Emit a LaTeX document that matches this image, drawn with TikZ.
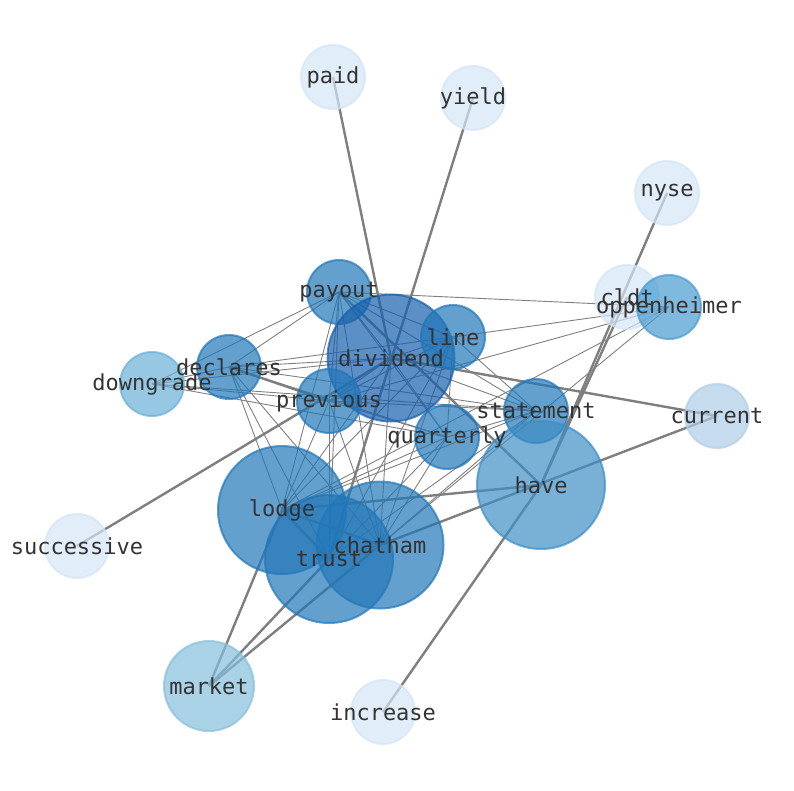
\documentclass[tikz,border=0pt]{standalone}
\usepackage{fontspec}
\setmonofont{DejaVu Sans Mono}
\usetikzlibrary{positioning}

\definecolor{blueA}{HTML}{D4E5F5}
\definecolor{blueB}{HTML}{AECDE7}
\definecolor{blueC}{HTML}{86BFDB}
\definecolor{blueD}{HTML}{69B0D9}
\definecolor{blueE}{HTML}{499BD0}
\definecolor{blueF}{HTML}{3E8EC5}
\definecolor{blueG}{HTML}{2277B8}
\definecolor{blueH}{HTML}{155FAC}
\definecolor{tiegray}{HTML}{7F7F7F}
\definecolor{txtgray}{HTML}{333333}

\pgfdeclarelayer{edges}
\pgfsetlayers{edges,main}

\begin{document}
\begin{tikzpicture}[x=1pt,y=-1pt,
  word/.style={circle,draw=#1,fill=#1,opacity=0.7,line width=2pt,inner sep=0pt},
  wordlabel/.style={font=\ttfamily\fontsize{22}{24}\selectfont,text=txtgray,inner sep=0pt},
  tie/.style={draw=tiegray,line width=0.9pt},
  strongtie/.style={draw=tiegray,line width=2.4pt}]
  \useasboundingbox (0,0) rectangle (794,790);

  \foreach \name/\x/\y/\d/\col in {
      paid/333/77/64/blueA, yield/473/98/64/blueA, nyse/667/193/64/blueA,
      cldt/627/297/64/blueA, oppenheimer/669/307/64/blueE, current/717/416/64/blueB,
      payout/339/292/64/blueG, dividend/391/358/127/blueH, line/453/337/64/blueG,
      declares/229/367/64/blueG, downgrade/152/384/64/blueD, previous/329/401/64/blueG,
      statement/536/411/64/blueG, quarterly/447/437/64/blueG, have/541/485/128/blueF,
      lodge/282/510/128/blueG, chatham/380/545/127/blueG, trust/329/559/128/blueG,
      successive/77/546/64/blueA, market/209/686/90/blueC, increase/383/712/64/blueA}
    \node[word=\col,minimum size=\d pt] (\name) at (\x,\y) {};

  \begin{pgfonlayer}{edges}
    \foreach \a/\b in {paid/dividend, yield/trust, nyse/have, cldt/have,
        current/dividend, current/chatham, increase/have, successive/dividend,
        market/lodge, market/trust, market/chatham, payout/have, lodge/have,
        lodge/trust, lodge/chatham, declares/previous}
      \draw[strongtie] (\a.center) -- (\b.center);
    \foreach \a/\b in {payout/dividend, payout/line, payout/declares, payout/previous,
        payout/statement, payout/quarterly, payout/lodge, payout/chatham, payout/trust,
        dividend/line, dividend/declares, dividend/previous, dividend/statement,
        dividend/quarterly, dividend/lodge, dividend/chatham, dividend/trust,
        line/declares, line/previous, line/statement, line/quarterly, line/lodge,
        line/chatham, line/trust,
        declares/statement, declares/quarterly, declares/lodge, declares/chatham, declares/trust,
        previous/statement, previous/quarterly, previous/lodge, previous/chatham, previous/trust,
        statement/quarterly, statement/lodge, statement/chatham, statement/trust,
        quarterly/lodge, quarterly/chatham, quarterly/trust, chatham/trust,
        downgrade/declares, downgrade/dividend, downgrade/previous, downgrade/statement,
        downgrade/quarterly, downgrade/payout,
        oppenheimer/payout, oppenheimer/line, oppenheimer/previous,
        oppenheimer/lodge, oppenheimer/chatham}
      \draw[tie] (\a.center) -- (\b.center);
  \end{pgfonlayer}

  \foreach \name in {paid, yield, nyse, cldt, oppenheimer, current, payout, dividend,
      line, declares, downgrade, previous, statement, quarterly, have, lodge, chatham,
      trust, successive, market, increase}
    \node[wordlabel] at (\name.center) {\name};
\end{tikzpicture}
\end{document}
